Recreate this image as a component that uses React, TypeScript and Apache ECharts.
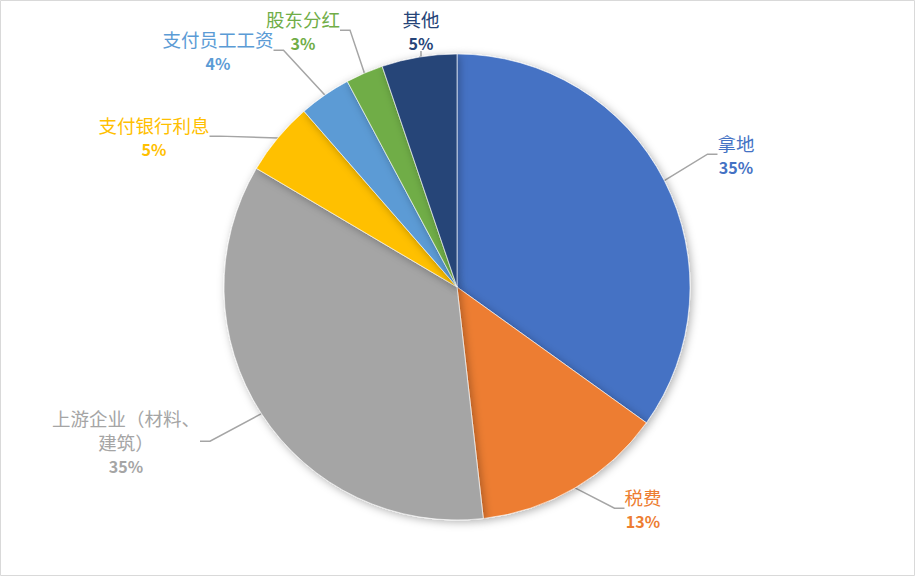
import React, { useEffect, useRef } from 'react';
import * as echarts from 'echarts';

const categories = ['拿地', '税费', '上游企业（材料、\n建筑）', '支付银行利息', '支付员工工资', '股东分红', '其他'];
const values = [34.9, 13.3, 35.3, 5.1, 3.6, 2.6, 5.2];
const colors = ['#4472C4', '#ED7D31', '#A5A5A5', '#FFC000', '#5B9BD5', '#70AD47', '#264478'];
const labelCenters = [
  [736, 155],
  [643, 509],
  [126, 442],
  [154, 137],
  [218, 51],
  [303, 31],
  [421, 31],
];

export default function App() {
  const ref = useRef<HTMLDivElement>(null);
  useEffect(() => {
    if (!ref.current) return;
    const chart = echarts.init(ref.current, undefined, { renderer: 'svg' });
    const font = '"Noto Sans CJK SC", "Noto Sans", sans-serif';
    chart.setOption({
      animation: false,
      backgroundColor: '#ffffff',
      graphic: [
        {
          type: 'rect',
          shape: { x: 0.5, y: 0.5, width: 914, height: 575 },
          style: { fill: 'none', stroke: '#d9d9d9', lineWidth: 1 },
          silent: true,
        },
      ],
      series: [
        {
          type: 'pie',
          center: [457, 287],
          radius: 233,
          startAngle: 90,
          clockwise: true,
          data: categories.map((c, i) => ({
            name: c,
            value: values[i],
            itemStyle: { color: colors[i] },
            label: {
              rich: {
                n: { fontSize: 18.5, lineHeight: 24, color: colors[i], fontFamily: font },
                p: { fontSize: 16, lineHeight: 25, color: colors[i], fontWeight: 'bold', fontFamily: font },
              },
            },
          })),
          itemStyle: {
            borderColor: '#ffffff',
            borderWidth: 0.6,
            shadowBlur: 8,
            shadowColor: 'rgba(0,0,0,0.3)',
            shadowOffsetX: 2,
            shadowOffsetY: 2,
          },
          label: {
            show: true,
            position: 'outside',
            align: 'center',
            formatter: (p: any) => `{n|${p.name}}\n{p|${Math.round(p.percent)}%}`,
          },
          labelLine: {
            show: true,
            length: 20,
            length2: 10,
            lineStyle: { color: '#A5A5A5', width: 1.5 },
          },
          labelLayout: (params: any) => {
            const pos = labelCenters[params.dataIndex];
            return { x: pos[0], y: pos[1], align: 'center', verticalAlign: 'middle' };
          },
        },
      ],
    });
    return () => chart.dispose();
  }, []);
  return (
    <div
      ref={ref}
      style={{ position: 'fixed', left: 0, top: 0, width: 915, height: 576 }}
    />
  );
}
